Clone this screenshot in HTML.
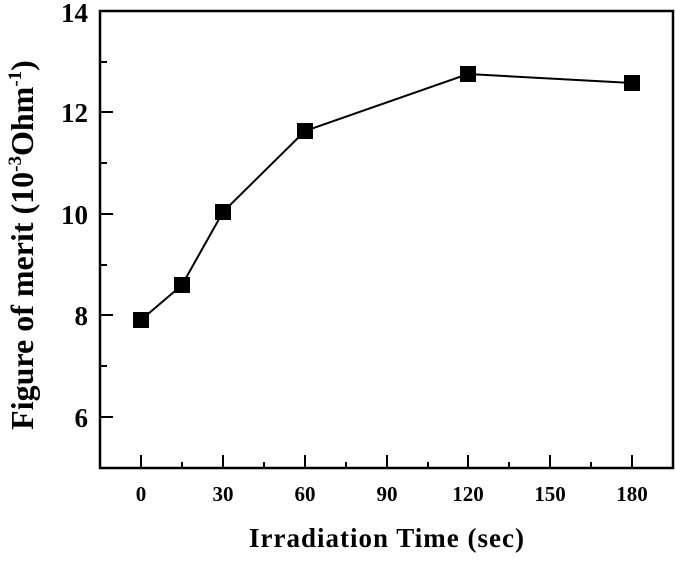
<!DOCTYPE html>
<html><head><style>html,body{margin:0;padding:0;background:#fff}</style></head><body>
<svg width="675" height="557" xmlns="http://www.w3.org/2000/svg" font-family="Liberation Serif, serif">
<rect x="100" y="11" width="573" height="457" fill="none" stroke="#000" stroke-width="2.5"/>
<g stroke="#000" stroke-width="2">
<line x1="100" y1="112" x2="113" y2="112"/><line x1="100" y1="214" x2="113" y2="214"/><line x1="100" y1="315" x2="113" y2="315"/><line x1="100" y1="417" x2="113" y2="417"/>
<line x1="100" y1="62" x2="107" y2="62"/><line x1="100" y1="163" x2="107" y2="163"/><line x1="100" y1="265" x2="107" y2="265"/><line x1="100" y1="366" x2="107" y2="366"/>
<line x1="141" y1="468" x2="141" y2="455"/><line x1="223" y1="468" x2="223" y2="455"/><line x1="305" y1="468" x2="305" y2="455"/><line x1="387" y1="468" x2="387" y2="455"/><line x1="468" y1="468" x2="468" y2="455"/><line x1="550" y1="468" x2="550" y2="455"/><line x1="632" y1="468" x2="632" y2="455"/>
<line x1="182" y1="468" x2="182" y2="462"/><line x1="264" y1="468" x2="264" y2="462"/><line x1="346" y1="468" x2="346" y2="462"/><line x1="428" y1="468" x2="428" y2="462"/><line x1="509" y1="468" x2="509" y2="462"/><line x1="591" y1="468" x2="591" y2="462"/>
</g>
<g font-size="27" font-weight="bold" text-anchor="end">
<text x="88" y="22">14</text><text x="88" y="122">12</text><text x="88" y="224">10</text><text x="88" y="325">8</text><text x="88" y="427">6</text>
</g>
<g font-size="21" font-weight="bold" text-anchor="middle">
<text x="141" y="501">0</text><text x="223" y="501">30</text><text x="305" y="501">60</text><text x="387" y="501">90</text><text x="468" y="501">120</text><text x="550" y="501">150</text><text x="632" y="501">180</text>
</g>
<text x="387" y="547" font-size="27" font-weight="bold" text-anchor="middle" letter-spacing="1">Irradiation Time (sec)</text>
<text transform="translate(33,245) rotate(-90)" font-size="32" font-weight="bold" text-anchor="middle">Figure of merit (10<tspan font-size="19" dy="-12">-3</tspan><tspan dy="12">Ohm</tspan><tspan font-size="19" dy="-12">-1</tspan><tspan dy="12">)</tspan></text>
<polyline fill="none" stroke="#000" stroke-width="2" points="141,320 182,285 223,212 305,131 468,74 632,83"/>
<g fill="#000">
<rect x="133" y="312" width="16" height="16"/><rect x="174" y="277" width="16" height="16"/><rect x="215" y="204" width="16" height="16"/><rect x="297" y="123" width="16" height="16"/><rect x="460" y="66" width="16" height="16"/><rect x="624" y="75" width="16" height="16"/>
</g>
</svg>
</body></html>
